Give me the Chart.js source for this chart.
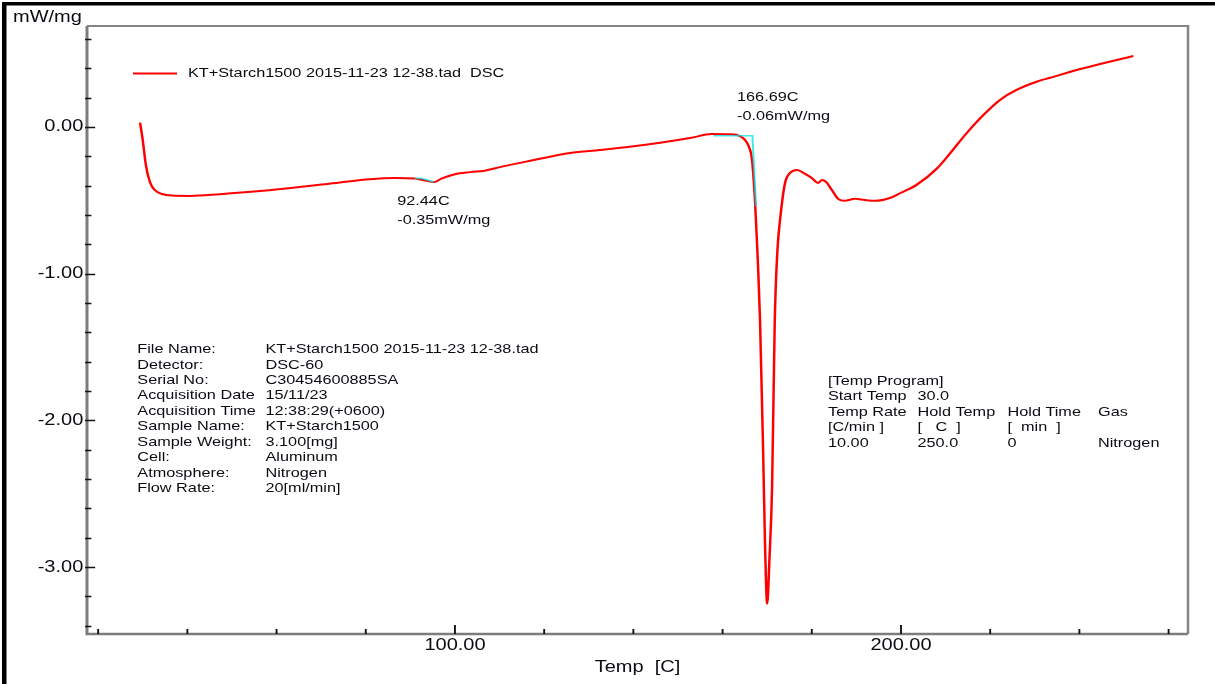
<!DOCTYPE html>
<html>
<head>
<meta charset="utf-8">
<title>DSC – KT+Starch1500</title>
<script src="https://cdn.jsdelivr.net/npm/chart.js@4/dist/chart.umd.min.js"></script>
<style>
  html, body { margin: 0; padding: 0; background: #fff; overflow: hidden; }
  #wrap { position: relative; width: 1215px; height: 684px; }
  canvas { display: block; }
</style>
</head>
<body>
<div id="wrap"><canvas id="dsc" width="972" height="684"></canvas></div>
<script>
// ---- DSC trace (temperature in C, heat flow in mW/mg) ----
const temps = [29.4, 30.0, 30.7, 31.6, 32.7, 34.3, 36.5, 40.6, 47.3, 56.3, 65.2, 74.2, 80.9, 86.5, 91.0, 93.3, 95.3, 97.1,
  100.0, 103.4, 106.7, 110.1, 114.6, 120.2, 125.8, 132.5, 139.2, 146.0, 152.7, 157.6, 161.7, 163.9, 165.0, 165.9, 166.6,
  167.3, 167.9, 168.4, 169.1, 169.5, 170.0, 170.5, 171.1, 171.7, 172.3, 172.9, 174.0, 175.1, 176.7, 178.5, 180.0, 181.4,
  182.3, 183.2, 184.5, 185.9, 187.4, 189.7, 191.9, 194.2, 197.5, 199.8, 203.5, 208.0, 211.0, 214.7, 218.5, 222.2, 225.9,
  230.4, 233.4, 240.9, 252.1];
const heatFlow = [0.03, -0.09, -0.26, -0.375, -0.43, -0.457, -0.468, -0.47, -0.458, -0.437, -0.41, -0.378, -0.356, -0.348, -0.352, -0.365, -0.376, -0.35,
  -0.322, -0.308, -0.298, -0.274, -0.245, -0.21, -0.178, -0.157, -0.135, -0.108, -0.076, -0.048, -0.05, -0.062, -0.088, -0.135, -0.225,
  -0.52, -0.91, -1.32, -2.22, -2.82, -3.25, -2.95, -2.45, -1.32, -0.84, -0.63, -0.382, -0.314, -0.293, -0.32, -0.348, -0.382,
  -0.362, -0.375, -0.43, -0.49, -0.503, -0.49, -0.498, -0.503, -0.484, -0.452, -0.395, -0.285, -0.18, -0.043, 0.082, 0.184, 0.252,
  0.308, 0.335, 0.40, 0.484];

// analysis marks (onset / peak construction lines)
const markA_T = [91.0, 92.44, 95.3];
const markA_V = [-0.352, -0.35, -0.376];
const markB_T = [157.9, 166.69, 167.5];
const markB_V = [-0.06, -0.06, -0.54];
const markLabelT = [92.44, 166.69];
const markLabelV = [-0.35, -0.06];

// axes
const xTicks = [20, 40, 60, 80, 100, 120, 140, 160, 180, 200, 220, 240, 260];
const xLabelled = [100, 200];
const yTicks = [0.6, 0.4, 0.2, 0, -0.2, -0.4, -0.6, -0.8, -1, -1.2, -1.4, -1.6, -1.8, -2, -2.2, -2.4, -2.6, -2.8, -3, -3.2, -3.4];
const yLabelled = [0, -1, -2, -3];
const xRange = [17.5, 264.35];
const yRange = [-3.456, 0.688];

// report text
const legendText = 'KT+Starch1500 2015-11-23 12-38.tad  DSC';
const infoKeys = ['File Name:', 'Detector:', 'Serial No:', 'Acquisition Date', 'Acquisition Time', 'Sample Name:',
  'Sample Weight:', 'Cell:', 'Atmosphere:', 'Flow Rate:'];
const infoValues = ['KT+Starch1500 2015-11-23 12-38.tad', 'DSC-60', 'C30454600885SA', '15/11/23', '12:38:29(+0600)',
  'KT+Starch1500', '3.100[mg]', 'Aluminum', 'Nitrogen', '20[ml/min]'];
const programRows = [
  ['[Temp Program]'],
  ['Start Temp', '30.0'],
  ['Temp Rate', 'Hold Temp', 'Hold Time', 'Gas'],
  ['[C/min ]', '[   C  ]', '[  min  ]'],
  ['10.00', '250.0', '0', 'Nitrogen']
];

// The report is drawn 1.25x wider than tall (instrument print format)
const STRETCH = 1.25;
const FONT = '"Liberation Sans", Arial, Helvetica, sans-serif';
const TEXT = '#0b0c12';

Chart.defaults.font.family = FONT;
Chart.defaults.color = TEXT;

const toPts = (xs, ys) => xs.map((x, i) => ({ x, y: ys[i] }));

const reportPlugin = {
  id: 'report',
  beforeDraw(chart) {
    const ctx = chart.ctx;
    ctx.save();
    ctx.setTransform(STRETCH, 0, 0, 1, 0, 0);
    ctx.fillStyle = '#fff';
    ctx.fillRect(0, 0, chart.width, chart.height);
  },
  beforeDatasetsDraw(chart) {
    const ctx = chart.ctx;
    const a = chart.chartArea;
    const xs = chart.scales.x, ys = chart.scales.y;
    ctx.save();
    // frame
    ctx.strokeStyle = '#858585';
    ctx.lineWidth = 2;
    ctx.beginPath();
    ctx.moveTo(a.left, a.top); ctx.lineTo(a.right, a.top); ctx.lineTo(a.right, a.bottom);
    ctx.stroke();
    ctx.strokeStyle = '#7c7c7c';
    ctx.lineWidth = 2.4;
    ctx.beginPath();
    ctx.moveTo(a.left, a.top); ctx.lineTo(a.left, a.bottom); ctx.lineTo(a.right, a.bottom);
    ctx.stroke();
    // tick marks pointing into the plot
    ctx.strokeStyle = '#111';
    ctx.lineWidth = 1.5;
    ctx.beginPath();
    yTicks.forEach(v => {
      const py = Math.round(ys.getPixelForValue(v)) + 0.5;
      const major = yLabelled.includes(v);
      ctx.moveTo(a.left - 1.5, py);
      ctx.lineTo(a.left + (major ? 6.5 : 3.5), py);
    });
    xTicks.forEach(v => {
      const px = xs.getPixelForValue(v);
      const major = xLabelled.includes(v);
      ctx.moveTo(px, a.bottom);
      ctx.lineTo(px, a.bottom - (major ? 9 : 5));
    });
    ctx.stroke();
    ctx.restore();
  },
  afterDraw(chart) {
    const ctx = chart.ctx;
    const xs = chart.scales.x, ys = chart.scales.y;
    ctx.save();
    ctx.fillStyle = TEXT;
    ctx.textBaseline = 'middle';
    ctx.textAlign = 'left';

    // y unit
    ctx.font = '16px ' + FONT;
    ctx.fillText('mW/mg', 10.4, 18);

    // legend
    ctx.strokeStyle = '#ff0000';
    ctx.lineWidth = 2;
    ctx.beginPath();
    ctx.moveTo(106.4, 73.5); ctx.lineTo(141.6, 73.5);
    ctx.stroke();
    ctx.font = '13px ' + FONT;
    ctx.fillText(legendText, 150.4, 73.5);

    // onset / peak readouts anchored to their points
    const offsets = [[-19.2, 23.4, 42.4], [-12.3, -38.5, -19.8]];
    markLabelT.forEach((t, i) => {
      const px = xs.getPixelForValue(t), py = ys.getPixelForValue(markLabelV[i]);
      const [dx, d1, d2] = offsets[i];
      ctx.fillText(t.toFixed(2) + 'C', px + dx, py + d1);
      ctx.fillText(markLabelV[i].toFixed(2) + 'mW/mg', px + dx, py + d2);
    });

    // sample information
    infoKeys.forEach((k, i) => {
      const y = 349.5 + i * 15.45;
      ctx.fillText(k, 137.3 / STRETCH, y);
      ctx.fillText(infoValues[i], 265.5 / STRETCH, y);
    });

    // temperature program
    const cols = [828, 917.5, 1007.5, 1098];
    programRows.forEach((row, r) => {
      const y = 381.5 + r * 15.4;
      row.forEach((cell, c) => ctx.fillText(cell, cols[c] / STRETCH, y));
    });
    ctx.restore();

    ctx.restore(); // end of stretched drawing

    // page border
    ctx.save();
    ctx.setTransform(1, 0, 0, 1, 0, 0);
    ctx.fillStyle = '#000';
    ctx.fillRect(2, 2, 1213, 3.5);
    ctx.fillRect(2, 2, 4.5, 682);
    ctx.restore();
  }
};

const chart = new Chart(document.getElementById('dsc'), {
  type: 'line',
  data: {
    datasets: [
      {
        label: 'DSC',
        data: toPts(temps, heatFlow),
        borderColor: '#ff0000',
        borderWidth: 2,
        pointRadius: 0,
        cubicInterpolationMode: 'monotone',
        fill: false,
        order: 2
      },
      {
        label: 'onset 1',
        data: toPts(markA_T, markA_V),
        borderColor: 'rgba(0, 225, 230, 0.75)',
        borderWidth: 1.6,
        pointRadius: 0,
        tension: 0,
        fill: false,
        order: 1
      },
      {
        label: 'onset 2',
        data: toPts(markB_T, markB_V),
        borderColor: 'rgba(0, 225, 230, 0.75)',
        borderWidth: 1.6,
        pointRadius: 0,
        tension: 0,
        fill: false,
        order: 1
      }
    ]
  },
  options: {
    responsive: false,
    maintainAspectRatio: false,
    animation: false,
    devicePixelRatio: 1,
    events: [],
    layout: { padding: { top: 26, right: 21.6, left: 0, bottom: 0 } },
    plugins: {
      legend: { display: false },
      title: { display: false },
      tooltip: { enabled: false }
    },
    scales: {
      x: {
        type: 'linear',
        min: xRange[0],
        max: xRange[1],
        afterBuildTicks(s) { s.ticks = xTicks.map(v => ({ value: v })); },
        afterFit(s) { s.height = 50; },
        ticks: {
          autoSkip: false,
          maxRotation: 0,
          padding: 2,
          font: { size: 16, lineHeight: 1.2 },
          color: TEXT,
          callback: v => (xLabelled.includes(v) ? v.toFixed(2) : '')
        },
        grid: { display: false, drawTicks: false },
        border: { display: false },
        title: {
          display: true,
          text: 'Temp  [C]',
          color: TEXT,
          font: { size: 16, lineHeight: 1.2 },
          padding: { top: 0, bottom: 7 }
        }
      },
      y: {
        type: 'linear',
        min: yRange[0],
        max: yRange[1],
        afterBuildTicks(s) { s.ticks = yTicks.map(v => ({ value: v })); },
        afterFit(s) { s.width = 69.6; },
        ticks: {
          autoSkip: false,
          padding: 3,
          font: { size: 16, lineHeight: 1.2 },
          color: TEXT,
          callback: v => (yLabelled.includes(v) ? v.toFixed(2) : '')
        },
        grid: { display: false, drawTicks: false },
        border: { display: false }
      }
    }
  },
  plugins: [reportPlugin]
});

// widen the backing store to the page width and redraw with the stretch transform
const cv = chart.canvas;
cv.width = 1215;
cv.height = 684;
cv.style.width = '1215px';
cv.style.height = '684px';
chart.draw();
</script>
</body>
</html>
